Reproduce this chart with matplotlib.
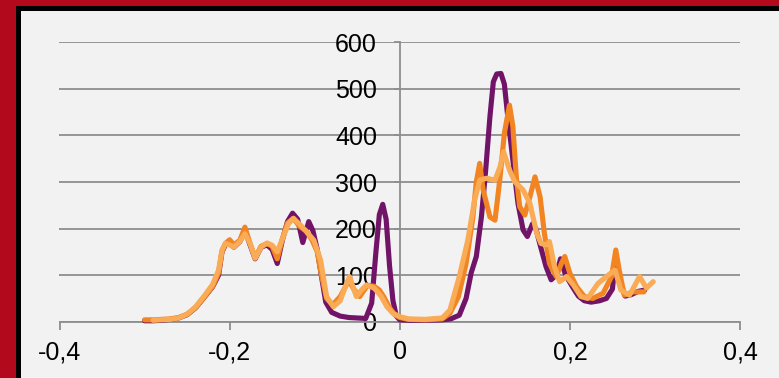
import matplotlib
matplotlib.use("Agg")
import matplotlib.pyplot as plt
from matplotlib.patches import Rectangle

# ---- data ----
purple_x = [-0.300, -0.290, -0.280, -0.270, -0.260, -0.250, -0.240, -0.230, -0.220, -0.213,
            -0.209, -0.205, -0.200, -0.195, -0.188, -0.182, -0.176, -0.170, -0.163, -0.156,
            -0.150, -0.144, -0.138, -0.132, -0.126, -0.120, -0.114, -0.107, -0.102, -0.097,
            -0.092, -0.087, -0.080, -0.070, -0.060, -0.050, -0.040, -0.033, -0.028, -0.024,
            -0.020, -0.016, -0.012, -0.008, -0.004, 0.000, 0.010, 0.030, 0.050, 0.060,
            0.070, 0.078, 0.084, 0.090, 0.096, 0.101, 0.106, 0.110, 0.114, 0.119,
            0.123, 0.127, 0.133, 0.139, 0.145, 0.150, 0.156, 0.160, 0.165, 0.172,
            0.178, 0.184, 0.189, 0.195, 0.203, 0.210, 0.217, 0.225, 0.235, 0.243,
            0.250, 0.254, 0.260, 0.265, 0.272, 0.280, 0.288]
purple_y = [2, 2, 3, 5, 8, 15, 30, 52, 75, 100,
            150, 165, 170, 160, 172, 195, 165, 135, 160, 165,
            155, 125, 175, 215, 233, 220, 170, 215, 195, 155,
            97, 42, 20, 12, 9, 8, 7, 40, 150, 230,
            252, 220, 120, 45, 12, 4, 3, 3, 4, 6,
            14, 50, 105, 140, 225, 325, 440, 515, 532, 533,
            510, 440, 347, 254, 197, 183, 210, 200, 165, 118,
            90, 100, 135, 100, 75, 55, 45, 42, 45, 50,
            70, 140, 80, 55, 58, 65, 68]

orange_x = [-0.300, -0.290, -0.280, -0.270, -0.260, -0.250, -0.240, -0.230, -0.220, -0.213,
            -0.209, -0.205, -0.200, -0.195, -0.188, -0.182, -0.176, -0.170, -0.163, -0.156,
            -0.150, -0.144, -0.138, -0.132, -0.125, -0.118, -0.110, -0.103, -0.097, -0.092,
            -0.086, -0.079, -0.070, -0.060, -0.054, -0.047, -0.038, -0.030, -0.024, -0.019,
            -0.012, -0.006, 0.000, 0.010, 0.030, 0.050, 0.059, 0.069, 0.078, 0.086,
            0.090, 0.094, 0.098, 0.106, 0.112, 0.118, 0.123, 0.129, 0.133, 0.137,
            0.141, 0.147, 0.153, 0.159, 0.165, 0.170, 0.176, 0.184, 0.190, 0.194,
            0.200, 0.208, 0.217, 0.227, 0.239, 0.249, 0.254, 0.258, 0.264, 0.274,
            0.287]
orange_y = [4, 4, 5, 6, 9, 16, 30, 52, 76, 105,
            150, 168, 176, 165, 175, 203, 168, 138, 162, 168,
            162, 135, 178, 212, 222, 205, 195, 175, 150, 100,
            50, 36, 54, 88, 70, 54, 78, 76, 68, 54,
            30, 15, 9, 5, 4, 6, 18, 54, 125, 225,
            300, 340, 283, 225, 218, 311, 405, 465, 419, 311,
            247, 229, 268, 311, 268, 190, 125, 97, 125, 140,
            104, 75, 54, 50, 61, 97, 154, 111, 57, 64,
            64]

light_x = [-0.290, -0.280, -0.270, -0.260, -0.250, -0.240, -0.230, -0.220, -0.213, -0.209,
           -0.205, -0.199, -0.195, -0.188, -0.182, -0.176, -0.170, -0.163, -0.156, -0.150,
           -0.144, -0.137, -0.131, -0.125, -0.117, -0.108, -0.101, -0.093, -0.086, -0.078,
           -0.070, -0.064, -0.059, -0.055, -0.051, -0.045, -0.039, -0.030, -0.022, -0.015,
           -0.008, 0.000, 0.010, 0.030, 0.050, 0.059, 0.070, 0.080, 0.088, 0.094,
           0.102, 0.112, 0.118, 0.122, 0.129, 0.135, 0.145, 0.153, 0.161, 0.166,
           0.172, 0.176, 0.182, 0.188, 0.196, 0.204, 0.213, 0.221, 0.233, 0.243,
           0.253, 0.260, 0.270, 0.282, 0.290, 0.298]
light_y = [3, 4, 5, 8, 16, 32, 55, 80, 111, 154,
           168, 164, 160, 172, 189, 168, 136, 160, 169, 164,
           150, 182, 210, 222, 208, 190, 175, 132, 54, 32,
           45, 75, 97, 75, 54, 68, 79, 72, 55, 32,
           18, 11, 6, 5, 8, 25, 97, 175, 261, 304,
           308, 304, 333, 365, 326, 301, 283, 254, 190, 168,
           165, 172, 118, 86, 97, 79, 54, 50, 82, 97,
           111, 68, 57, 97, 72, 86]

x_ticks = [-0.4, -0.2, 0.0, 0.2, 0.4]
x_tick_labels = ["-0,4", "-0,2", "0", "0,2", "0,4"]
y_ticks = [0, 100, 200, 300, 400, 500, 600]
y_tick_labels = ["0", "100", "200", "300", "400", "500", "600"]

# ---- figure ----
W, H = 779, 378
fig = plt.figure(figsize=(W / 100, H / 100), dpi=100, facecolor="#B20A1C")
fig.patches.append(Rectangle((16 / W, 0), 1, (H - 6) / H, transform=fig.transFigure,
                             facecolor="#000000", edgecolor="none", zorder=-10))
fig.patches.append(Rectangle((21 / W, 0), 1, (H - 11) / H, transform=fig.transFigure,
                             facecolor="#F2F2F2", edgecolor="none", zorder=-9))

left, right = 59.5, 740.0
top, bottom = 42.3, 321.7
ax = fig.add_axes([left / W, (H - bottom) / H, (right - left) / W, (bottom - top) / H])
ax.set_zorder(5)
ax.set_facecolor("none")

grid_c = "#8E8E8E"
ax.set_xlim(-0.4, 0.4)
ax.set_ylim(0, 600)
ax.set_yticks(y_ticks)
ax.set_yticklabels(y_tick_labels)
ax.set_xticks(x_ticks)
ax.set_xticklabels(x_tick_labels)
ax.yaxis.grid(True, color=grid_c, linewidth=1.3)
ax.set_axisbelow(True)

for s in ["top", "right"]:
    ax.spines[s].set_visible(False)
ax.spines["left"].set_position(("data", 0))
ax.spines["left"].set_color(grid_c)
ax.spines["left"].set_linewidth(1.3)
ax.spines["bottom"].set_color(grid_c)
ax.spines["bottom"].set_linewidth(1.3)

ax.tick_params(axis="y", direction="out", length=4.3, width=1.3, color=grid_c,
               pad=12, labelsize=18, labelcolor="black")
ax.tick_params(axis="x", direction="out", length=5.8, width=1.3, color=grid_c,
               pad=7.5, labelsize=18, labelcolor="black")
for lab in ax.get_xticklabels() + ax.get_yticklabels():
    lab.set_fontfamily(["Liberation Sans", "DejaVu Sans"])

lw = 3.7
ax.plot(purple_x, purple_y, color="#711468", lw=lw, solid_joinstyle="round",
        solid_capstyle="round", zorder=3, clip_on=False)
ax.plot(orange_x, orange_y, color="#F28522", lw=lw, solid_joinstyle="round",
        solid_capstyle="round", zorder=4, clip_on=False)
ax.plot(light_x, light_y, color="#FAAB55", lw=lw, solid_joinstyle="round",
        solid_capstyle="round", zorder=5, clip_on=False)

fig.savefig("out.png", dpi=100, facecolor=fig.get_facecolor())
